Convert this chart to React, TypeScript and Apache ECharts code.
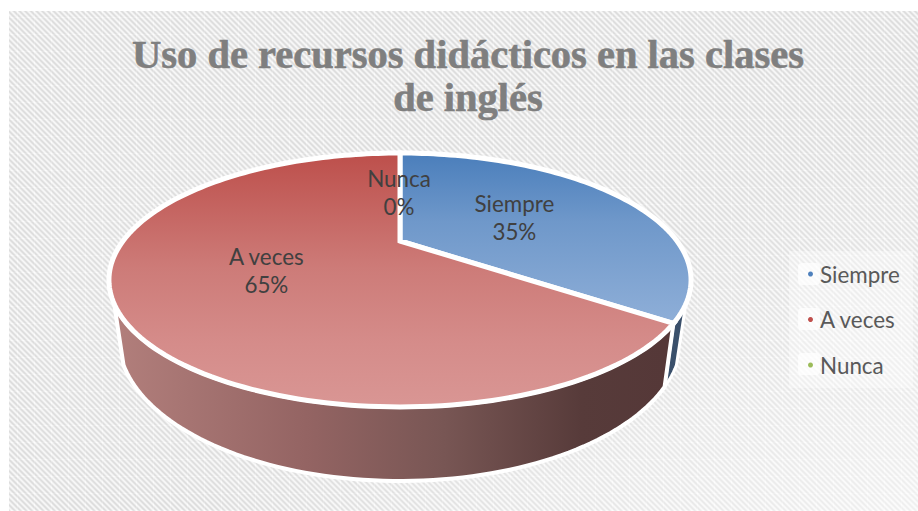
import React, { useEffect, useRef } from "react";
import * as echarts from "echarts";

const titleText = "Uso de recursos didácticos en las clases\nde inglés";
const categories = ["Siempre", "A veces", "Nunca"];
const values = [35, 65, 0];
const percentLabels = ["35%", "65%", "0%"];
const legendColors = ["#4f81bd", "#c0504d", "#9bbb59"];

const W = 918;
const H = 511;
// perspective disc: u,v on the unit circle, w = 1 - k*v
const K = 0.307;
const CX = 400;
const TOP = { cy: 241, a: 277, b: 115 };
const BOTTOM = { cy: 294, a: 268, b: 129.6 };
const LEFT_SILHOUETTE = 242;
const RIGHT_SILHOUETTE = 118;
const EDGE = 5;

function project(rim: { cy: number; a: number; b: number }, deg: number, r = 1): number[] {
  const t = (deg * Math.PI) / 180;
  const u = Math.sin(t) * r;
  const v = -Math.cos(t) * r;
  const w = 1 - K * v;
  return [CX + (rim.a * u) / w, rim.cy + (rim.b * v) / w];
}

function arc(rim: { cy: number; a: number; b: number }, from: number, to: number): number[][] {
  const n = Math.max(2, Math.ceil(Math.abs(to - from) / 1.5));
  const pts: number[][] = [];
  for (let i = 0; i <= n; i++) pts.push(project(rim, from + ((to - from) * i) / n));
  return pts;
}

function hatchTile(): HTMLCanvasElement {
  const size = 17;
  const c = document.createElement("canvas");
  c.width = size;
  c.height = size;
  const ctx = c.getContext("2d")!;
  const img = ctx.createImageData(size, size);
  const p = size / 3;
  for (let y = 0; y < size; y++) {
    for (let x = 0; x < size; x++) {
      const t = (((x - y) % p) + p) % p;
      let g = 234 + 14 * Math.cos((2 * Math.PI * t) / p);
      if (x === 0 || y === 0) g = Math.min(255, g + 5);
      const i = (y * size + x) * 4;
      img.data[i] = g;
      img.data[i + 1] = g;
      img.data[i + 2] = g;
      img.data[i + 3] = 255;
    }
  }
  ctx.putImageData(img, 0, 0);
  return c;
}

const total = values.reduce((a, b) => a + b, 0);
const startAngles = values.map((_, i) => (values.slice(0, i).reduce((a, b) => a + b, 0) / total) * 360);

const topGradients = [
  {
    from: 153,
    to: 325,
    stops: [
      [0, "#4a7ebb"],
      [0.4, "#6f98ca"],
      [1, "#8fafd8"],
    ],
  },
  {
    from: 153,
    to: 407,
    stops: [
      [0, "#bd4f4b"],
      [0.45, "#cd7b78"],
      [0.75, "#d58c8a"],
      [1, "#d99694"],
    ],
  },
  {
    from: 153,
    to: 407,
    stops: [
      [0, "#9bbb59"],
      [1, "#c3d69b"],
    ],
  },
];

function makeRender(index: number) {
  return (_params: any, api: any) => {
    const value = api.value(0) as number;
    const start = startAngles[index];
    const end = start + (value / total) * 360;
    const children: any[] = [];
    if (value > 0) {
      const wallFrom = Math.max(start, RIGHT_SILHOUETTE);
      const wallTo = Math.min(end, LEFT_SILHOUETTE);
      if (index === 0) {
        const wallPts = [...arc(TOP, RIGHT_SILHOUETTE, end), ...arc(BOTTOM, end, RIGHT_SILHOUETTE)];
        children.push({
          type: "polygon",
          shape: { points: wallPts },
          style: { fill: "#3a506b", stroke: "#fff", lineWidth: 3, lineJoin: "round" },
        });
      } else if (wallTo > wallFrom) {
        const wallPts = [...arc(TOP, wallFrom, wallTo), ...arc(BOTTOM, wallTo, wallFrom)];
        children.push({
          type: "polygon",
          shape: { points: wallPts },
          style: {
            fill: {
              type: "linear",
              x: 112,
              y: 0,
              x2: 665,
              y2: 0,
              global: true,
              colorStops: [
                { offset: 0, color: "#b27f7c" },
                { offset: 0.35, color: "#946463" },
                { offset: 0.6, color: "#785654" },
                { offset: 0.85, color: "#573b3a" },
                { offset: 1, color: "#553838" },
              ],
            },
            stroke: "#fff",
            lineWidth: EDGE - 1,
            lineJoin: "round",
          },
        });
      }
      const g = topGradients[index];
      children.push({
        type: "polygon",
        shape: { points: [[CX, TOP.cy], ...arc(TOP, start, end)] },
        style: {
          fill: {
            type: "linear",
            x: 0,
            y: g.from,
            x2: 0,
            y2: g.to,
            global: true,
            colorStops: g.stops.map(([offset, color]) => ({ offset, color })),
          },
          stroke: "#fff",
          lineWidth: EDGE,
          lineJoin: "miter",
        },
      });
    }
    return { type: "group", children };
  };
}

function makeLabelRender(index: number) {
  return (_params: any, api: any) => {
    const value = api.value(0) as number;
    const start = startAngles[index];
    const mid = start + ((value / total) * 360) / 2;
    const [x, y] = project(TOP, mid, 0.5);
    return {
      type: "text",
      z2: 100,
      style: {
        x: x - 1,
        y: y + 1,
        text: `${categories[index]}\n${percentLabels[index]}`,
        fill: "#404040",
        font: '22.4px Lato, "Noto Sans", sans-serif',
        lineHeight: 28,
        align: "center",
        verticalAlign: "middle",
      },
    };
  };
}

export default function App() {
  const ref = useRef<HTMLDivElement>(null);
  useEffect(() => {
    document.body.style.margin = "0";
    const chart = echarts.init(ref.current!, undefined, { renderer: "svg" });
    const tile = hatchTile();
    const markerBacks = categories.map((_, i) => ({
      type: "rect",
      shape: { x: 798, y: 263 + i * 45, width: 22, height: 22, r: 4 },
      style: { fill: "rgba(255,255,255,0.7)" },
      silent: true,
    }));
    chart.setOption({
      animation: false,
      backgroundColor: "#ffffff",
      title: {
        text: titleText,
        left: 463,
        top: 28,
        textAlign: "center",
        textStyle: {
          fontFamily: '"Liberation Serif", serif',
          fontWeight: "bold",
          fontSize: 40.5,
          lineHeight: 43,
          color: "#7f7f7f",
          textBorderColor: "#7f7f7f",
          textBorderWidth: 0.6,
        },
      },
      graphic: {
        elements: [
          {
            type: "rect",
            shape: { x: 9, y: 11, width: W - 9, height: H - 11 },
            style: { fill: { image: tile, repeat: "repeat", imageWidth: 17, imageHeight: 17 } },
            silent: true,
          },
          {
            type: "rect",
            shape: { x: 9, y: 11, width: W - 9, height: H - 11 },
            style: {
              fill: {
                type: "linear",
                x: 0,
                y: 0,
                x2: 1,
                y2: 1,
                colorStops: [
                  { offset: 0, color: "rgba(255,255,255,0)" },
                  { offset: 0.6, color: "rgba(255,255,255,0)" },
                  { offset: 1, color: "rgba(255,255,255,0.55)" },
                ],
              },
            },
            silent: true,
          },
          {
            type: "rect",
            shape: { x: 37, y: 150, width: 876, height: 339 },
            style: { fill: "rgba(255,255,255,0.05)" },
            silent: true,
          },
          {
            type: "rect",
            shape: { x: 789, y: 251, width: 124, height: 137 },
            style: { fill: "rgba(255,255,255,0.35)" },
            silent: true,
          },
          ...markerBacks,
        ],
      },
      legend: {
        orient: "vertical",
        left: 803,
        top: 258,
        icon: "circle",
        itemWidth: 5,
        itemHeight: 5,
        itemGap: 23.5,
        selectedMode: false,
        data: categories,
        textStyle: {
          color: "#595959",
          fontFamily: 'Lato, "Noto Sans", sans-serif',
          fontSize: 22.4,
          padding: [0, 0, 0, 2],
        },
      },
      series: [
        ...categories.map((name, i) => ({
          type: "custom",
          name,
          coordinateSystem: "none",
          silent: true,
          z: i === 0 ? 2 : 3,
          itemStyle: { color: legendColors[i] },
          data: [[values[i]]],
          renderItem: makeRender(i),
        })),
        ...categories.map((name, i) => ({
          type: "custom",
          name: `${name} etiqueta`,
          coordinateSystem: "none",
          silent: true,
          z: 5,
          data: [[values[i]]],
          renderItem: makeLabelRender(i),
        })),
      ],
    });
    return () => chart.dispose();
  }, []);
  return <div ref={ref} style={{ width: W, height: H }} />;
}
